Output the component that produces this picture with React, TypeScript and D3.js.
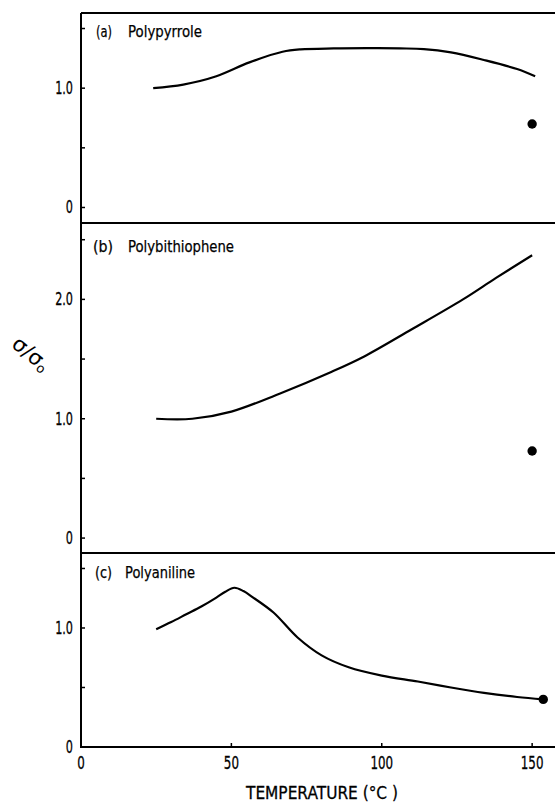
import * as d3 from "d3";

// temperature (°C) and sigma/sigma0
const tempA = [24, 34, 45, 56, 67, 73, 84, 95, 106, 114, 123, 134, 145, 151];
const sigmaA = [1.0, 1.03, 1.1, 1.216, 1.305, 1.325, 1.333, 1.335, 1.333, 1.328, 1.3, 1.236, 1.16, 1.1];

const tempB = [25, 37, 50, 66, 83, 94, 110, 127, 138, 150];
const sigmaB = [1.0, 1.0, 1.06, 1.21, 1.39, 1.52, 1.75, 2.0, 2.18, 2.37];

const tempC = [25, 30, 35, 40, 45, 48, 51, 54, 57, 64, 72, 80, 89, 100, 112, 123, 134, 145, 153.7];
const sigmaC = [0.99, 1.05, 1.115, 1.18, 1.255, 1.305, 1.338, 1.31, 1.26, 1.13, 0.92, 0.77, 0.67, 0.6, 0.55, 0.5, 0.455, 0.42, 0.4];

// single end points (filled circles)
const dotTemp = [150, 150, 153.7];
const dotSigma = [0.7, 0.73, 0.4];

const panelNames = ["(a)", "(b)", "(c)"];
const polymers = ["Polypyrrole", "Polybithiophene", "Polyaniline"];
const xTicks = [0, 50, 100, 150];

const font = "'DejaVu Sans', sans-serif";

// narrow lettering like the original typeset figure
const Narrow = (props: { x: number; y: number; size: number; anchor?: string; children: any }) => (
  <g transform={`translate(${props.x},${props.y}) scale(0.66,1)`}>
    <text
      textAnchor={props.anchor || "start"}
      dominantBaseline="central"
      fontFamily={font}
      fontSize={props.size}
      stroke="#000"
      strokeWidth={0.3}
    >
      {props.children}
    </text>
  </g>
);

export default function App() {
  const W = 555;
  const H = 803;
  const left = 81;

  const x = d3.scaleLinear().domain([0, 157.6]).range([left, W]);

  const panels = [
    { t: tempA, s: sigmaA, dom: [-0.13, 1.63], rng: [223, 13], major: [0, 1], minor: [0.5, 1.5] },
    { t: tempB, s: sigmaB, dom: [-0.125, 2.64], rng: [553, 223], major: [0, 1, 2], minor: [0.5, 1.5, 2.5] },
    { t: tempC, s: sigmaC, dom: [0, 1.63], rng: [747, 553], major: [0, 1], minor: [0.5, 1.5] },
  ];

  // label geometry: [x of "(a)", width, x of name, width, baseline]
  const labelPos = [
    [96, 16, 128, 74, 37],
    [93, 20, 128, 106, 252],
    [95, 17, 125, 70, 578],
  ];

  const fmt = (v: number) => (v === 0 ? "0" : d3.format(".1f")(v));

  return (
    <div style={{ position: "absolute", left: 0, top: 0 }}>
      <svg width={W} height={H} style={{ display: "block", background: "#fff" }}>
        {panels.map((p, i) => {
          const y = d3.scaleLinear().domain(p.dom).range(p.rng);
          const line = d3
            .line<number>()
            .x((d) => x(d))
            .y((_, k) => y(p.s[k]))
            .curve(d3.curveCatmullRom.alpha(0.5));
          const top = p.rng[1];
          const lp = labelPos[i];
          return (
            <g key={i}>
              {/* top border of each panel */}
              <line x1={left} x2={W} y1={top} y2={top} stroke="#000" strokeWidth={2} />
              {[...p.major, ...p.minor].map((v) => (
                <line key={"t" + v} x1={left} x2={left + 4} y1={y(v)} y2={y(v)} stroke="#000" strokeWidth={1.5} />
              ))}
              {p.major.map((v) => (
                <Narrow key={"l" + v} x={73} y={y(v)} size={17} anchor="end">
                  {fmt(v)}
                </Narrow>
              ))}
              <path d={line(p.t) || ""} fill="none" stroke="#000" strokeWidth={2.2} />
              <circle cx={x(dotTemp[i])} cy={y(dotSigma[i])} r={4.7} fill="#000" />
              <text
                x={lp[0]}
                y={lp[4]}
                fontFamily={font}
                fontSize={16}
                textLength={lp[1]}
                lengthAdjust="spacingAndGlyphs"
                stroke="#000"
                strokeWidth={0.25}
              >
                {panelNames[i]}
              </text>
              <text
                x={lp[2]}
                y={lp[4]}
                fontFamily={font}
                fontSize={16}
                textLength={lp[3]}
                lengthAdjust="spacingAndGlyphs"
                stroke="#000"
                strokeWidth={0.25}
              >
                {polymers[i]}
              </text>
            </g>
          );
        })}

        {/* left and bottom axes */}
        <line x1={left} x2={left} y1={13} y2={748} stroke="#000" strokeWidth={2} />
        <line x1={left} x2={W} y1={747} y2={747} stroke="#000" strokeWidth={2} />
        {xTicks.map((v) => (
          <g key={v}>
            <line x1={x(v)} x2={x(v)} y1={747} y2={743} stroke="#000" strokeWidth={1.5} />
            <Narrow x={x(v)} y={763} size={18} anchor="middle">
              {v}
            </Narrow>
          </g>
        ))}
        <text
          x={246}
          y={799}
          fontFamily={font}
          fontSize={18}
          textLength={152}
          lengthAdjust="spacingAndGlyphs"
          stroke="#000"
          strokeWidth={0.3}
        >
          TEMPERATURE (°C )
        </text>

        <text
          transform="translate(31,354) rotate(40)"
          textAnchor="middle"
          dominantBaseline="central"
          fontFamily={font}
          fontSize={21}
        >
          σ/σ
          <tspan fontSize={13} dy={4}>o</tspan>
        </text>
      </svg>
    </div>
  );
}
